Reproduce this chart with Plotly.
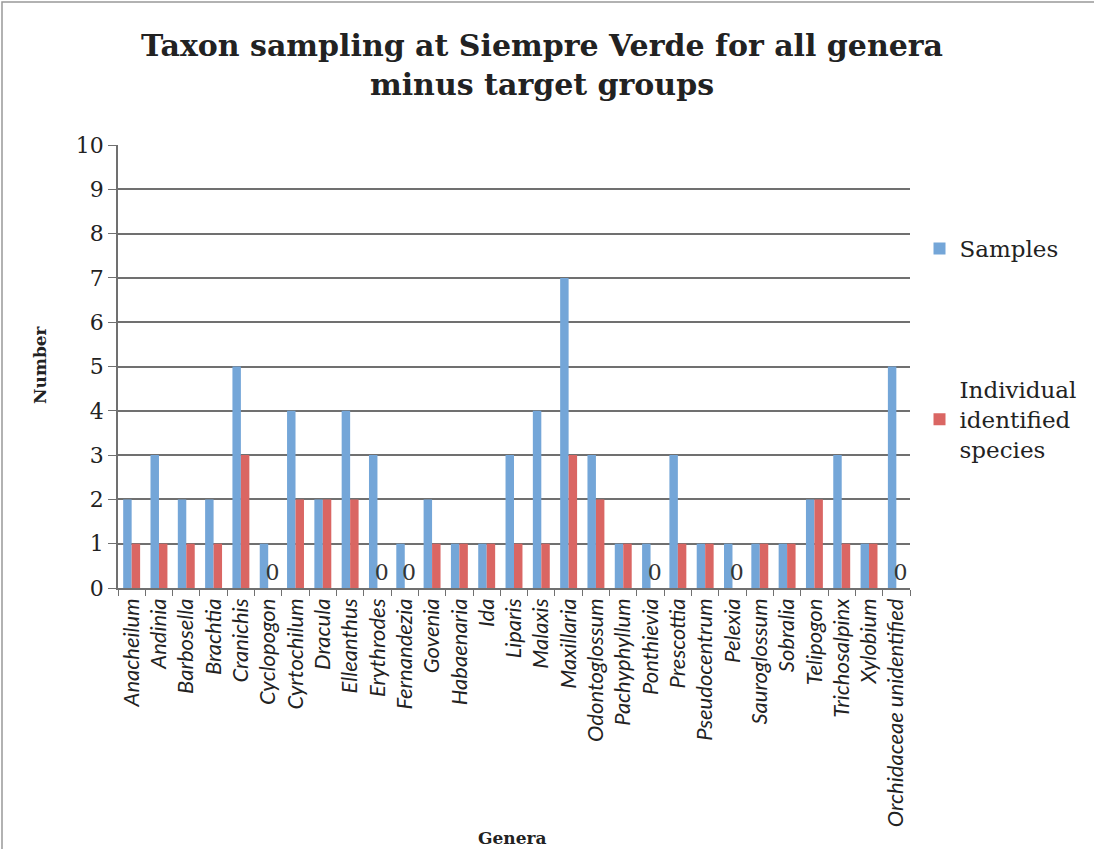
import plotly.graph_objects as go

genera = ["Anacheilum", "Andinia", "Barbosella", "Brachtia", "Cranichis", "Cyclopogon",
          "Cyrtochilum", "Dracula", "Elleanthus", "Erythrodes", "Fernandezia", "Govenia",
          "Habaenaria", "Ida", "Liparis", "Malaxis", "Maxillaria", "Odontoglossum",
          "Pachyphyllum", "Ponthievia", "Prescottia", "Pseudocentrum", "Pelexia",
          "Sauroglossum", "Sobralia", "Telipogon", "Trichosalpinx", "Xylobium",
          "Orchidaceae unidentified"]
samples = [2, 3, 2, 2, 5, 1, 4, 2, 4, 3, 1, 2, 1, 1, 3, 4, 7, 3, 1, 1, 3, 1, 1, 1, 1, 2, 3, 1, 5]
species = [1, 1, 1, 1, 3, 0, 2, 2, 2, 0, 0, 1, 1, 1, 1, 1, 3, 2, 1, 0, 1, 1, 0, 1, 1, 2, 1, 1, 0]
y_ticks = [0, 1, 2, 3, 4, 5, 6, 7, 8, 9, 10]

W, H = 1094, 849
L, R, T, B = 118, 184, 145, 261
PW, PH = W - L - R, H - T - B


def px(x):
    return (x - L) / PW


def py(y):
    return (H - B - y) / PH


serif = "DejaVu Serif"
fig = go.Figure()
fig.add_trace(go.Bar(
    x=genera, y=samples, name="Samples", legendgroup="a",
    marker=dict(color="#74A6D8", line=dict(width=0)),
))
fig.add_trace(go.Bar(
    x=genera, y=species, name="Individual<br>identified<br>species", legendgroup="b",
    marker=dict(color="#DA6663", line=dict(width=0)),
    text=["0" if v == 0 else "" for v in species], textposition="outside",
    constraintext="none",
    textfont=dict(family=serif, size=22, color="#333333"), cliponaxis=False,
))

fig.update_layout(
    width=W, height=H,
    paper_bgcolor="white", plot_bgcolor="white",
    margin=dict(l=L, r=R, t=T, b=B),
    barmode="group", bargap=0.38, bargroupgap=0.0,
    legend=dict(x=1.012, xanchor="left", y=py(227), yanchor="top",
                font=dict(family=serif, size=23, color="#222222"),
                tracegroupgap=108, traceorder="grouped",
                itemwidth=30, bgcolor="rgba(0,0,0,0)"),
    showlegend=True,
)
fig.update_yaxes(
    range=[0, 10], tickvals=y_ticks, showgrid=True, gridcolor="#707070", gridwidth=1.5,
    showline=True, linecolor="#707070", linewidth=1.5, ticks="outside", ticklen=8,
    tickcolor="#707070", tickfont=dict(family=serif, size=22, color="#222222"),
    zeroline=False,
)
fig.update_xaxes(
    showline=True, linecolor="#707070", linewidth=1.5, ticks="outside", ticklen=6,
    tickson="boundaries", tickcolor="#707070", tickangle=-90,
    tickfont=dict(family="Lato", size=22, color="#222222", style="italic"),
)
fig.add_annotation(text="<b>Taxon sampling at Siempre Verde for all genera<br>minus target groups</b>",
                   x=px(542), xref="paper", y=py(65), yref="paper",
                   xanchor="center", yanchor="middle", showarrow=False,
                   font=dict(family=serif, size=30, color="#222222"))
fig.add_annotation(text="<b>Number</b>", x=px(40), xref="paper", y=py(365), yref="paper",
                   xanchor="center", yanchor="middle", showarrow=False, textangle=-90,
                   font=dict(family=serif, size=17, color="#222222"))
fig.add_annotation(text="<b>Genera</b>", x=px(512), xref="paper", y=py(838), yref="paper",
                   xanchor="center", yanchor="middle",
                   showarrow=False, font=dict(family=serif, size=17, color="#222222"))
fig.add_shape(type="rect", xref="paper", yref="paper",
              x0=px(2), x1=px(W + 4), y0=py(H + 4), y1=py(2),
              line=dict(color="#999999", width=1.5))
fig.write_html("out.html", config={"displayModeBar": False})

with open("out.html", "r", encoding="utf-8") as f:
    html = f.read()
html = html.replace("<body>", "<body style=\"margin:0;padding:0\">", 1)
with open("out.html", "w", encoding="utf-8") as f:
    f.write(html)
